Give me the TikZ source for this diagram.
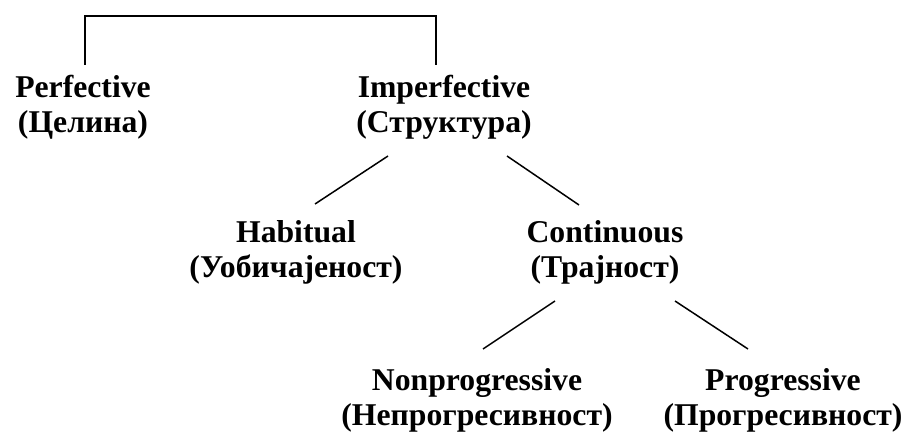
\documentclass[tikz,border=0pt]{standalone}
\usepackage{fontspec}
\setmainfont{Liberation Serif}
\usepackage{tikz}
\usetikzlibrary{calc}

\begin{document}
\begin{tikzpicture}[x=1pt,y=-1pt]
		\useasboundingbox (0,0) rectangle (912,433);
		% nodes sit on the baseline of their last line
		\begin{scope}[every node/.style={align=center,anchor=base,inner sep=0pt,
		              font=\fontsize{31.7}{35}\selectfont\bfseries}]
		    \node (perfective) at (83,132) {Perfective\\(Целина)};
		    \node (imperfective) at (444,132) {Imperfective\\(Структура)};
		    \node (habitual) at (296,277) {Habitual\\(Уобичајеност)};
		    \node (continuous) at (605,277) {Continuous\\(Трајност)};
		    \node (nonprogressive) at (477,425) {Nonprogressive\\(Непрогресивност)};
		    \node (progressive) at (783,425) {Progressive\\(Прогресивност)};
		\end{scope}
		
		\begin{scope}[every path/.style={draw=black,line width=1.5pt}]
		    \draw[line width=1.7pt] ($(perfective.base)+(2,-67)$) |- ($(imperfective.base)+(-8,-116)$)
		        -- ($(imperfective.base)+(-8,-67)$);
			\draw ($(imperfective.base)+(-56,24)$) -- ($(habitual.base)+(19,-73)$);
			\draw ($(imperfective.base)+(63,24)$) -- ($(continuous.base)+(-26,-72)$);
			\draw ($(continuous.base)+(-50,24)$) -- ($(nonprogressive.base)+(6,-76)$);
			\draw ($(continuous.base)+(70,24)$) -- ($(progressive.base)+(-35,-76)$);
		\end{scope}
		\end{tikzpicture}
\end{document}
